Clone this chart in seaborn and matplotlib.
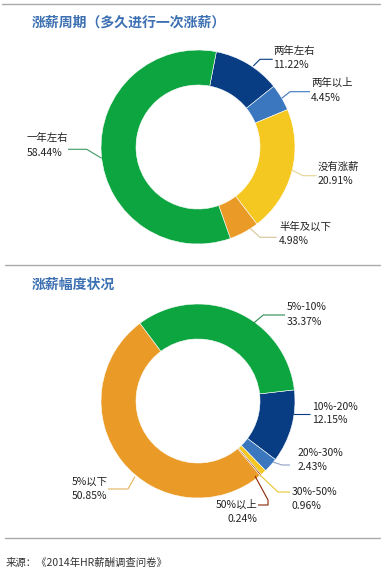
import matplotlib
matplotlib.use("Agg")
import matplotlib.pyplot as plt
import seaborn as sns

# ---------------- data ----------------
title1 = "涨薪周期（多久进行一次涨薪）"
cats1 = ["两年左右", "两年以上", "没有涨薪", "半年及以下", "一年左右"]
vals1 = [11.22, 4.45, 20.91, 4.98, 58.44]

title2 = "涨薪幅度状况"
cats2 = ["10%-20%", "20%-30%", "30%-50%", "50%以上", "5%以下", "5%-10%"]
vals2 = [12.15, 2.43, 0.96, 0.24, 50.85, 33.37]

source = "来源：《2014年HR薪酬调查问卷》"

# ---------------- style ----------------
sns.set_theme(style="white")
plt.rcParams['font.family'] = ['Noto Sans CJK SC', 'DejaVu Sans']

GREEN, DBLUE, LBLUE, YELLOW, ORANGE, DRED = (
    "#0CA53F", "#083D84", "#3A77BF", "#F4C820", "#EA9B27", "#8A2606")
pal1 = sns.color_palette([DBLUE, LBLUE, YELLOW, ORANGE, GREEN])
pal2 = sns.color_palette([DBLUE, LBLUE, YELLOW, DRED, ORANGE, GREEN])

W, H = 386, 572
fig = plt.figure(figsize=(W / 100, H / 100), dpi=100)
ax = fig.add_axes([0, 0, 1, 1])

def Y(y):
    return H - y

R, RW = 97, 35
ax.pie(vals1, colors=pal1, startangle=79.1, counterclock=False,
       radius=R, center=(198, Y(147)),
       wedgeprops=dict(width=RW, edgecolor="white", linewidth=0.4))
ax.pie(vals2, colors=pal2, startangle=6.6, counterclock=False,
       radius=R, center=(198, Y(401)),
       wedgeprops=dict(width=RW, edgecolor="white", linewidth=0.4))

ax.set_xlim(0, W)
ax.set_ylim(0, H)
ax.set_aspect("equal")
ax.axis("off")

TXT = "#222222"
FS = 7.5

# label layout: (x, y_line1, y_line2, ha), leader path, leader colour
lab1 = [
    ((273, 51, 65, "left"), [(272.7, 59.3), (260, 59.3), (253.3, 66)], DBLUE),
    ((311, 83, 98, "left"), [(310, 91.7), (290, 91.7), (281.7, 98.3)], LBLUE),
    ((318, 167, 181, "left"), [(316.7, 175.7), (303, 175.7), (291.7, 170)], "#E6D495"),
    ((279, 227, 241, "left"), [(276.7, 237.3), (260, 237.3), (250, 228.3)], "#D8C598"),
    ((27, 138, 153, "left"), [(68, 149.3), (86.7, 149.3), (101.7, 158.3)], "#3E9A66"),
]
lab2 = [
    ((312, 407, 420, "left"), [(310, 414), (293, 414)], DBLUE),
    ((298, 453, 467, "left"), [(290, 465), (282, 465), (273, 462)], "#8DA2C2"),
    ((292, 492, 506, "left"), [(290, 492), (278, 492), (260, 475)], "#E8C530"),
    ((257, 505, 519, "right"), [(258, 505), (268, 505), (268, 500), (255, 476)], DRED),
    ((72, 482, 496, "left"), [(108, 489), (128, 489), (135, 476.7)], "#E3B45A"),
    ((287, 307, 322, "left"), [(285, 315), (263.3, 315), (253.3, 323.3)], "#2E8A55"),
]

def draw_labels(cats, vals, layout):
    for c, v, ((x, y1, y2, ha), path, col) in zip(cats, vals, layout):
        ax.text(x, Y(y1), c, fontsize=FS, color=TXT, ha=ha, va="center")
        ax.text(x, Y(y2), f"{v:.2f}%", fontsize=FS, color=TXT, ha=ha, va="center")
        xs = [p[0] for p in path]
        ys = [Y(p[1]) for p in path]
        ax.plot(xs, ys, color=col, lw=0.8, solid_capstyle="butt")

draw_labels(cats1, vals1, lab1)
draw_labels(cats2, vals2, lab2)

TITLE_C = "#3D70B2"
ax.text(32, Y(23), title1, fontsize=10, fontweight="bold", color=TITLE_C,
        ha="left", va="center")
ax.text(32, Y(285), title2, fontsize=10, fontweight="bold", color=TITLE_C,
        ha="left", va="center")

for (x0, x1, yy) in [(2, 380, 4), (5, 380, 265), (5, 380, 538)]:
    ax.plot([x0, x1], [Y(yy), Y(yy)], color="#AAAAAA", lw=1)

ax.text(6, Y(563), source, fontsize=7.5, color="#333333", ha="left", va="center")

fig.savefig("out.png", dpi=100)
